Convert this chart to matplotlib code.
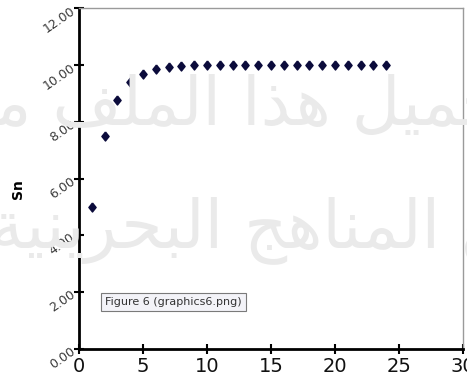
import matplotlib
matplotlib.use("Agg")
import matplotlib.pyplot as plt
import matplotlib.ticker as ticker

# Data
n_vals = list(range(1, 25))
sn_vals = [5.00, 7.50, 8.75, 9.38, 9.69, 9.84, 9.92, 9.96, 9.98, 9.99, 10.00, 10.00,
           10.00, 10.00, 10.00, 10.00, 10.00, 10.00, 10.00, 10.00, 10.00, 10.00, 10.00, 10.00]
x_ticks = [0, 5, 10, 15, 20, 25, 30]
y_ticks = [0, 2, 4, 6, 8, 10, 12]

# watermark lines, pre-shaped Arabic (visual order, presentation forms)
def shape(codes):
    return "".join(chr(c) for c in codes)[::-1]

# تحميل هذا الملف من
wm_line1 = shape([0xFE97, 0xFEA4, 0xFEE4, 0xFEF4, 0xFEDE, 0x20,
                  0xFEEB, 0xFEAC, 0xFE8D, 0x20,
                  0xFE8D, 0xFEDF, 0xFEE4, 0xFEE0, 0xFED2, 0x20,
                  0xFEE3, 0xFEE6])
# موقع المناهج البحرينية
wm_line2 = shape([0xFEE3, 0xFEEE, 0xFED7, 0xFECA, 0x20,
                  0xFE8D, 0xFEDF, 0xFEE4, 0xFEE8, 0xFE8E, 0xFEEB, 0xFE9E, 0x20,
                  0xFE8D, 0xFEDF, 0xFE92, 0xFEA4, 0xFEAE, 0xFEF3, 0xFEE8, 0xFEF4, 0xFE94])

diamond = [(0, 1), (0.8, 0), (0, -1), (-0.8, 0), (0, 1)]

fig = plt.figure(figsize=(4.67, 3.83), dpi=100)
ax = fig.add_axes([79/467, 34/383, 384/467, 341/383])

# watermark behind the points
fig.text(0.50, 0.72, wm_line1, fontsize=48, color='#eaeaea', ha='center', va='center',
         family='DejaVu Sans', zorder=0)
fig.text(0.63, 0.40, wm_line2, fontsize=48, color='#eaeaea', ha='center', va='center',
         family='DejaVu Sans', zorder=0)
ax.patch.set_alpha(0)

ax.plot(n_vals, sn_vals, linestyle='none', marker=diamond, markersize=6.5,
        markerfacecolor='#0b0b3b', markeredgecolor='#0b0b3b')

ax.set_xlim(0, 30)
ax.set_ylim(0, 12)
ax.set_xticks(x_ticks)
ax.set_yticks(y_ticks)
ax.yaxis.set_major_formatter(ticker.FormatStrFormatter('%.2f'))

ax.spines['left'].set_linewidth(2)
ax.spines['bottom'].set_linewidth(2)
ax.spines['top'].set_color('#9a9a9a')
ax.spines['right'].set_color('#9a9a9a')
ax.spines['top'].set_linewidth(1)
ax.spines['right'].set_linewidth(1)

ax.tick_params(axis='both', direction='inout', length=7, width=1.5)
ax.tick_params(axis='x', pad=2)
ax.tick_params(axis='y', pad=1)
for lab in ax.get_xticklabels():
    lab.set_fontsize(14)
    lab.set_color('#111111')
for lab in ax.get_yticklabels():
    lab.set_fontsize(9)
    lab.set_rotation(35)
    lab.set_rotation_mode('anchor')
    lab.set_color('#3a3a3a')

ax.set_ylabel('Sn', fontsize=10, fontweight='bold')
ax.yaxis.set_label_coords(-0.14, 0.47)

fig.text(105/467, 1 - 302/383, 'Figure 6 (graphics6.png)', fontsize=8,
         color='#333333', ha='left', va='center',
         bbox=dict(boxstyle='square,pad=0.4', facecolor='#f3f3f8', edgecolor='#7a7a7a',
                   linewidth=0.8))

fig.savefig('out.png', dpi=100)
